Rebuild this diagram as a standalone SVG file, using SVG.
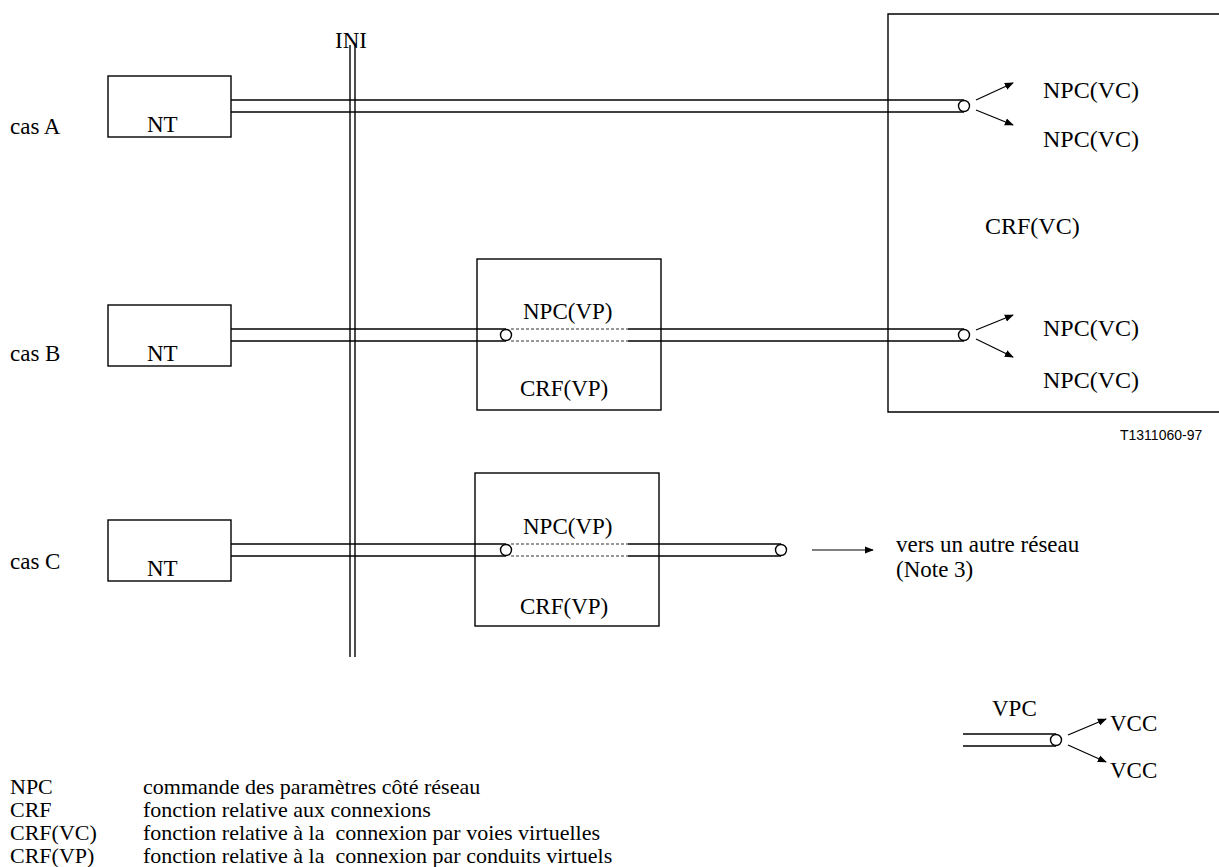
<svg xmlns="http://www.w3.org/2000/svg" width="1219" height="867" viewBox="0 0 1219 867">
<style>
.t{font-family:"Liberation Serif","Times New Roman",serif;font-size:23px;fill:#000}
.l{font-family:"Liberation Serif","Times New Roman",serif;font-size:22px;fill:#000}
.a{font-family:"Liberation Sans",Arial,sans-serif;font-size:14px;fill:#000}
.s{fill:none;stroke:#000;stroke-width:1.4}
.d{fill:none;stroke:#333;stroke-width:1.2;stroke-dasharray:3 2}
.c{fill:#fff;stroke:#000;stroke-width:1.4}
.ar{fill:none;stroke:#000;stroke-width:1.2;marker-end:url(#ah)}
</style>
<defs>
<marker id="ah" viewBox="0 0 10 10" refX="9" refY="5" markerWidth="9" markerHeight="9" markerUnits="userSpaceOnUse" orient="auto">
<path d="M0,1 L10,5 L0,9 z" fill="#000"/>
</marker>
</defs>
<g id="labels">
<text class="t" x="10" y="134">cas A</text>
<text class="t" x="10" y="361">cas B</text>
<text class="t" x="10" y="569">cas C</text>
</g>
<g id="ini">
<line class="s" x1="350" y1="45" x2="350" y2="657"/>
<line class="s" x1="355" y1="45" x2="355" y2="657"/>
<text class="t" x="335" y="48">INI</text>
</g>
<g id="ntA"><rect class="s" x="108" y="76" width="123" height="61"/><text class="t" x="147" y="132">NT</text></g>
<g id="ntB"><rect class="s" x="108" y="305" width="123" height="61"/><text class="t" x="147" y="361">NT</text></g>
<g id="ntC"><rect class="s" x="108" y="520" width="123" height="61"/><text class="t" x="147" y="576">NT</text></g>
<g id="crfVC">
<path class="s" d="M1219,14 H888 V412 H1219"/>
<text class="t" x="985" y="234" style="font-size:24px">CRF(VC)</text>
<text class="t" x="1043" y="98" style="font-size:24px">NPC(VC)</text>
<text class="t" x="1043" y="147" style="font-size:24px">NPC(VC)</text>
<text class="t" x="1043" y="336" style="font-size:24px">NPC(VC)</text>
<text class="t" x="1043" y="388" style="font-size:24px">NPC(VC)</text>
</g>
<g id="crfVPB">
<rect class="s" x="477" y="259" width="184" height="151"/>
<text class="t" x="523" y="319">NPC(VP)</text>
<text class="t" x="520" y="396">CRF(VP)</text>
</g>
<g id="crfVPC">
<rect class="s" x="475" y="473" width="184" height="153"/>
<text class="t" x="523" y="534">NPC(VP)</text>
<text class="t" x="520" y="614">CRF(VP)</text>
</g>
<g id="connectors">
<line class="s" x1="231" y1="100" x2="964" y2="100"/>
<line class="s" x1="231" y1="112" x2="964" y2="112"/>
<circle class="c" cx="964" cy="106" r="5.5"/>
<line class="ar" x1="976" y1="100" x2="1013" y2="83"/>
<line class="ar" x1="976" y1="110" x2="1013" y2="125"/>

<line class="s" x1="231" y1="329" x2="506" y2="329"/>
<line class="s" x1="231" y1="341" x2="506" y2="341"/>
<line class="d" x1="511" y1="329" x2="628" y2="329"/>
<line class="d" x1="511" y1="341" x2="628" y2="341"/>
<line class="s" x1="628" y1="329" x2="964" y2="329"/>
<line class="s" x1="628" y1="341" x2="964" y2="341"/>
<circle class="c" cx="506" cy="335" r="5.5"/>
<circle class="c" cx="964" cy="335" r="5.5"/>
<line class="ar" x1="976" y1="330" x2="1013" y2="315"/>
<line class="ar" x1="976" y1="339" x2="1013" y2="357"/>

<line class="s" x1="231" y1="544" x2="506" y2="544"/>
<line class="s" x1="231" y1="556" x2="506" y2="556"/>
<line class="d" x1="511" y1="544" x2="628" y2="544"/>
<line class="d" x1="511" y1="556" x2="628" y2="556"/>
<line class="s" x1="628" y1="544" x2="781" y2="544"/>
<line class="s" x1="628" y1="556" x2="781" y2="556"/>
<circle class="c" cx="506" cy="550" r="5.5"/>
<circle class="c" cx="781" cy="550" r="5.5"/>
<line class="ar" x1="812" y1="550" x2="873" y2="550"/>
</g>
<g id="dest">
<text class="t" x="896" y="552">vers un autre réseau</text>
<text class="t" x="896" y="577">(Note 3)</text>
</g>
<text class="a" x="1120" y="440">T1311060-97</text>
<g id="legendSymbol">
<text class="t" x="992" y="716">VPC</text>
<line class="s" x1="963" y1="734" x2="1056" y2="734"/>
<line class="s" x1="963" y1="746" x2="1056" y2="746"/>
<circle class="c" cx="1056" cy="740" r="5.5"/>
<line class="ar" x1="1068" y1="735" x2="1106" y2="719"/>
<line class="ar" x1="1068" y1="745" x2="1106" y2="762"/>
<text class="t" x="1110" y="731">VCC</text>
<text class="t" x="1110" y="778">VCC</text>
</g>
<g id="legend">
<text class="l" x="10" y="794">NPC</text>
<text class="l" x="143" y="794">commande des paramètres côté réseau</text>
<text class="l" x="10" y="817">CRF</text>
<text class="l" x="143" y="817">fonction relative aux connexions</text>
<text class="l" x="10" y="840">CRF(VC)</text>
<text class="l" x="143" y="840" xml:space="preserve">fonction relative à la  connexion par voies virtuelles</text>
<text class="l" x="10" y="863">CRF(VP)</text>
<text class="l" x="143" y="863" xml:space="preserve">fonction relative à la  connexion par conduits virtuels</text>
</g>
</svg>
